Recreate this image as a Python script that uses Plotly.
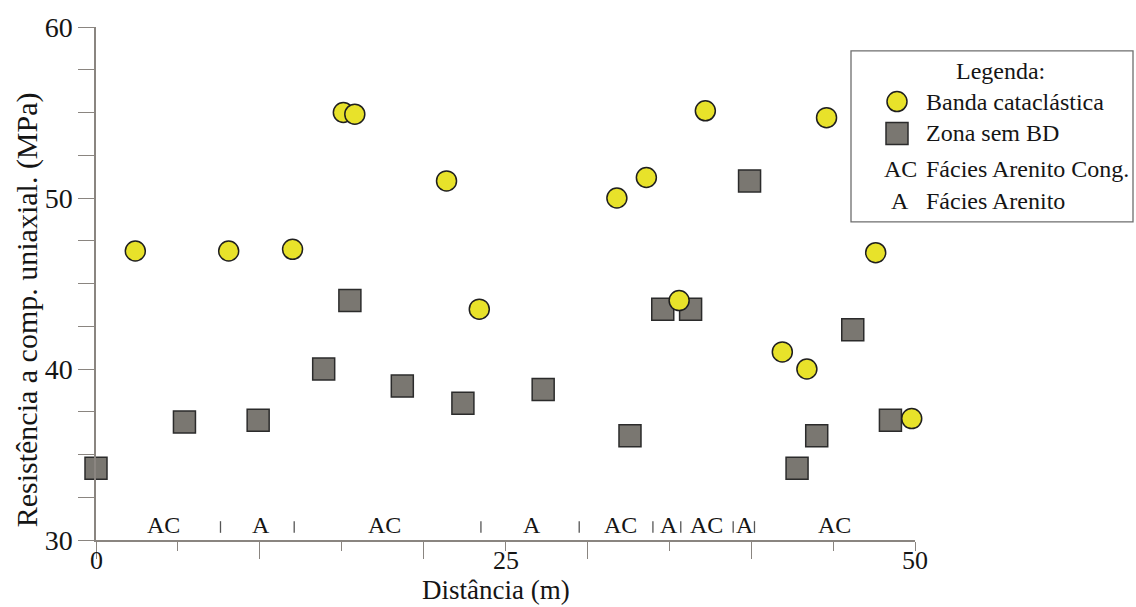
import plotly.graph_objects as go

# Banda cataclástica (circles)
banda_x = [2.4, 8.1, 12.0, 15.1, 15.8, 21.4, 23.4, 31.8, 33.6, 35.6, 37.2, 41.9, 43.4, 44.6, 47.6, 49.8]
banda_y = [46.9, 46.9, 47.0, 55.0, 54.9, 51.0, 43.5, 50.0, 51.2, 44.0, 55.1, 41.0, 40.0, 54.7, 46.8, 37.1]

# Zona sem BD (squares)
zona_x = [0.0, 5.4, 9.9, 13.9, 15.5, 18.7, 22.4, 27.3, 32.6, 34.6, 36.3, 39.9, 42.8, 44.0, 46.2, 48.5]
zona_y = [34.2, 36.9, 37.0, 40.0, 44.0, 39.0, 38.0, 38.8, 36.1, 43.5, 43.5, 51.0, 34.2, 36.1, 42.3, 37.0]

# Facies intervals along the section
facies_bounds = [7.6, 12.1, 23.5, 29.5, 34.0, 35.7, 38.9, 40.2]
facies_labels = ["AC", "A", "AC", "A", "AC", "A", "AC", "A", "AC"]
facies_label_x = [4.1, 10.1, 17.6, 26.6, 32.0, 35.0, 37.3, 39.6, 45.1]

x_ticklabels = ["0", "25", "50"]
x_ticklabel_pos = [0, 25, 50]

W, H = 1136, 607
ML, MR, MT, MB = 96, 221, 24, 67
PW, PH = W - ML - MR, H - MT - MB

def px_x(p):
    return (p - ML) / PW

def px_y(p):
    return (H - MB - p) / PH

SERIF = "Liberation Serif"
AXIS_COLOR = "#8a8580"
TEXT_COLOR = "#151515"
YELLOW = "#e8e22a"
GREY = "#7a7771"

fig = go.Figure()

fig.add_trace(go.Scatter(
    x=zona_x, y=zona_y, mode="markers", name="Zona sem BD",
    marker=dict(symbol="square", size=22, color=GREY, line=dict(color="#2b2b2b", width=1.5)),
    cliponaxis=False, showlegend=False,
))
fig.add_trace(go.Scatter(
    x=banda_x, y=banda_y, mode="markers", name="Banda cataclástica",
    marker=dict(symbol="circle", size=20, color=YELLOW, line=dict(color="#1f1f1f", width=1.5)),
    cliponaxis=False, showlegend=False,
))

shapes = []
annotations = []

# facies boundary marks
for b in facies_bounds:
    shapes.append(dict(type="line", xref="x", yref="y", x0=b, x1=b, y0=30.42, y1=31.1,
                       line=dict(color="#555555", width=1.3)))
for lab, lx in zip(facies_labels, facies_label_x):
    annotations.append(dict(x=lx, y=30.87, xref="x", yref="y", text=lab, showarrow=False,
                            font=dict(family=SERIF, size=24, color=TEXT_COLOR),
                            xanchor="center", yanchor="middle"))

# x tick labels
for t, v in zip(x_ticklabels, x_ticklabel_pos):
    annotations.append(dict(x=v, y=px_y(561), xref="x", yref="paper", text=t, showarrow=False,
                            font=dict(family=SERIF, size=26, color=TEXT_COLOR),
                            xanchor="center", yanchor="middle", borderpad=0))

# axis titles
annotations.append(dict(x=px_x(496), y=px_y(590), xref="paper", yref="paper", text="Distância (m)",
                        showarrow=False, font=dict(family=SERIF, size=27, color=TEXT_COLOR),
                        xanchor="center", yanchor="middle", borderpad=0))
annotations.append(dict(x=px_x(27), y=px_y(309), xref="paper", yref="paper",
                        text="Resistência a comp. uniaxial. (MPa)", textangle=-90,
                        showarrow=False, font=dict(family=SERIF, size=30, color=TEXT_COLOR),
                        xanchor="center", yanchor="middle"))

# legend box
shapes.append(dict(type="rect", xref="paper", yref="paper",
                   x0=px_x(851), x1=px_x(1133), y0=px_y(220), y1=px_y(48),
                   line=dict(color="#6e6e6e", width=1.3), fillcolor="white"))
shapes.append(dict(type="circle", xref="paper", yref="paper", xsizemode="pixel", ysizemode="pixel",
                   xanchor=px_x(897), yanchor=px_y(99), x0=-10, x1=10, y0=-10, y1=10,
                   fillcolor=YELLOW, line=dict(color="#1f1f1f", width=1.5)))
shapes.append(dict(type="rect", xref="paper", yref="paper", xsizemode="pixel", ysizemode="pixel",
                   xanchor=px_x(897), yanchor=px_y(131), x0=-11, x1=11, y0=-11, y1=11,
                   fillcolor=GREY, line=dict(color="#2b2b2b", width=1.5)))

legend_font = dict(family=SERIF, size=24, color=TEXT_COLOR)
annotations.append(dict(x=px_x(1000), y=px_y(68), xref="paper", yref="paper", text="Legenda:",
                        showarrow=False, font=legend_font, xanchor="center", yanchor="middle"))
for txt, py in [("Banda cataclástica", 99), ("Zona sem BD", 131),
                ("Fácies Arenito Cong.", 167), ("Fácies Arenito", 199)]:
    annotations.append(dict(x=px_x(924), y=px_y(py), xref="paper", yref="paper", text=txt,
                            showarrow=False, font=legend_font, xanchor="left", yanchor="middle"))
for sym, py in [("AC", 167), ("A", 199)]:
    annotations.append(dict(x=px_x(900), y=px_y(py), xref="paper", yref="paper", text=sym,
                            showarrow=False, font=legend_font, xanchor="center", yanchor="middle"))

fig.update_layout(
    width=W, height=H,
    margin=dict(l=ML, r=MR, t=MT, b=MB),
    paper_bgcolor="white", plot_bgcolor="white",
    shapes=shapes, annotations=annotations,
    xaxis=dict(
        range=[0, 50], showgrid=False, zeroline=False,
        showline=True, linecolor=AXIS_COLOR, linewidth=1.5,
        tickmode="array", tickvals=[0, 10, 20, 30, 40], ticks="outside",
        ticklen=17, tickwidth=1.3, tickcolor=AXIS_COLOR, showticklabels=False,
        minor=dict(tickmode="array", tickvals=[5, 15, 25, 35, 45, 50], ticks="outside",
                   ticklen=9, tickwidth=1.3, tickcolor=AXIS_COLOR),
    ),
    yaxis=dict(
        range=[30, 60], showgrid=False, zeroline=False,
        showline=True, linecolor=AXIS_COLOR, linewidth=1.5,
        tickmode="array", tickvals=[30, 40, 50, 60], ticks="outside",
        ticklen=16, tickwidth=1.3, tickcolor=AXIS_COLOR,
        tickfont=dict(family=SERIF, size=28, color=TEXT_COLOR),
        minor=dict(dtick=2.5, tick0=30, ticks="outside", ticklen=16, tickwidth=1.3, tickcolor=AXIS_COLOR),
    ),
)

fig.write_html("out.html")
